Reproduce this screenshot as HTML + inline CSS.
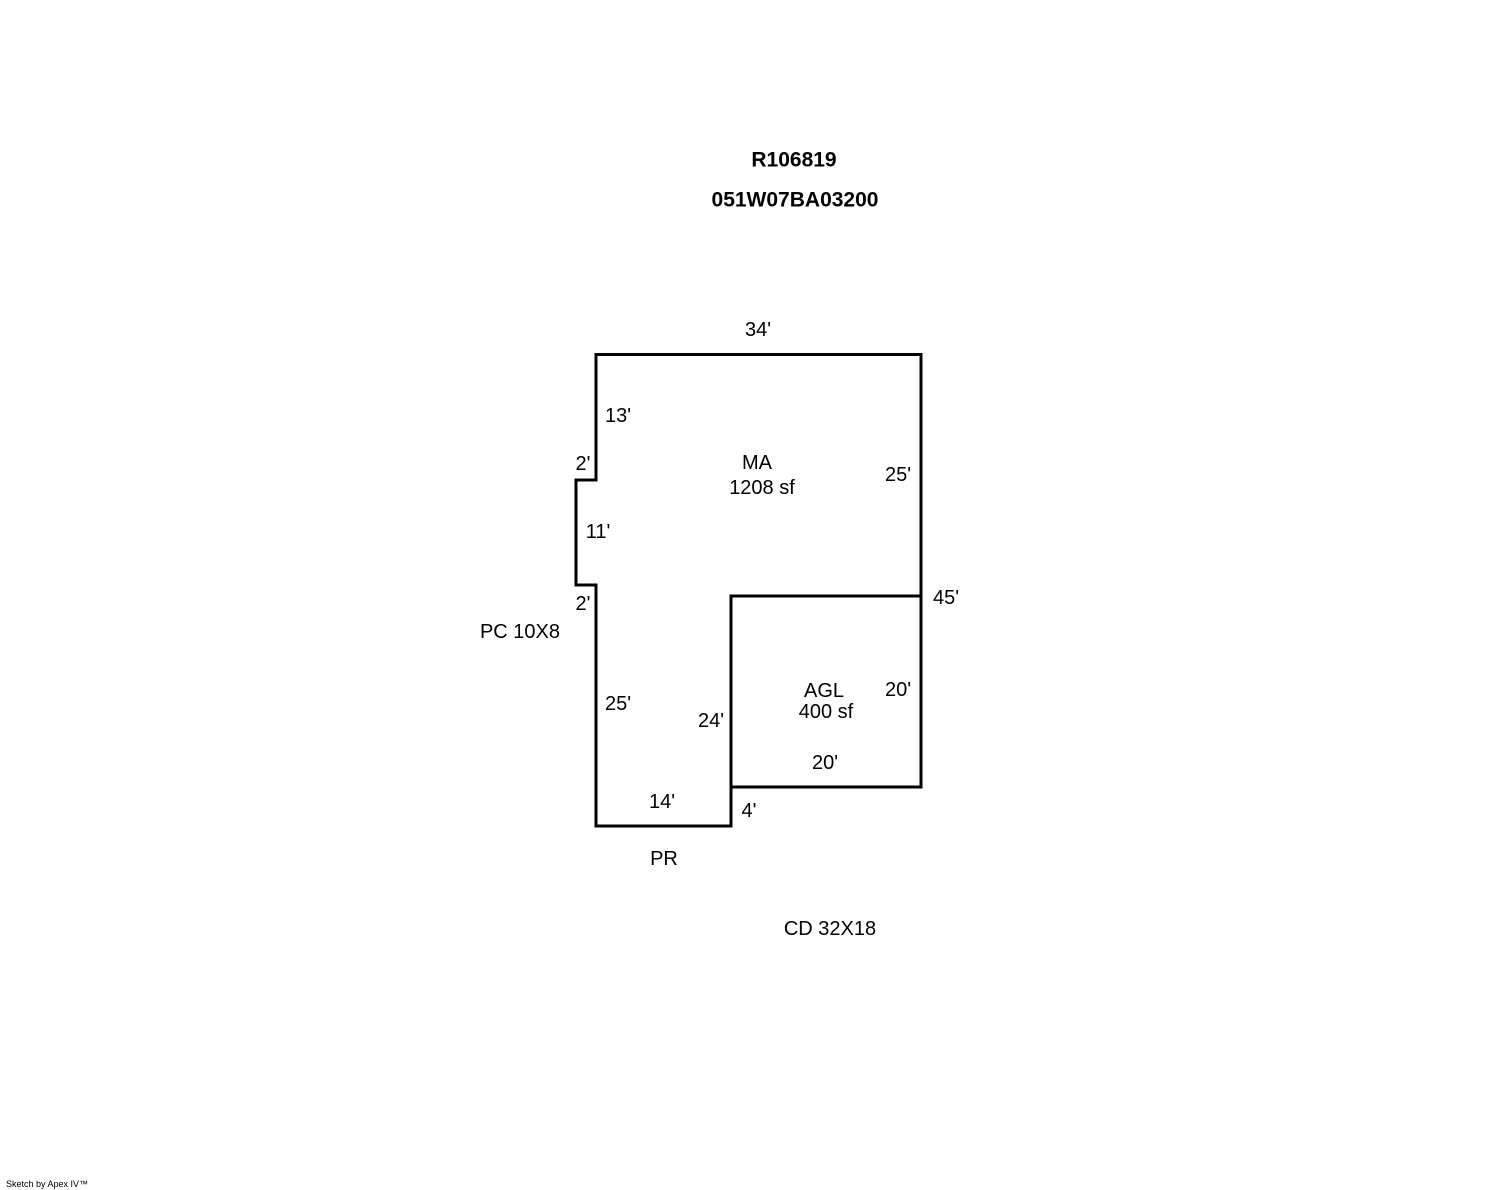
<!DOCTYPE html>
<html><head><style>body{margin:0;background:#fff}svg{display:block}</style></head><body>
<svg width="1488" height="1190" xmlns="http://www.w3.org/2000/svg" font-family="Liberation Sans, Arial, sans-serif" font-size="20" fill="#000">
<polygon points="596,354.5 921,354.5 921,787 731,787 731,826 596,826 596,585 576,585 576,480 596,480" fill="none" stroke="#000" stroke-width="3"/>
<polyline points="921,596 731,596 731,787" fill="none" stroke="#000" stroke-width="3"/>
<g text-anchor="middle" dominant-baseline="central">
<text x="794" y="160" font-weight="bold" font-size="21">R106819</text>
<text x="795" y="200" font-weight="bold" font-size="21">051W07BA03200</text>
<text x="758" y="330">34'</text>
<text x="618" y="416">13'</text>
<text x="583" y="464">2'</text>
<text x="757" y="463">MA</text>
<text x="762" y="488">1208 sf</text>
<text x="898" y="475">25'</text>
<text x="598" y="532">11'</text>
<text x="583" y="604">2'</text>
<text x="946" y="598">45'</text>
<text x="520" y="632">PC 10X8</text>
<text x="824" y="691">AGL</text>
<text x="826" y="712">400 sf</text>
<text x="898" y="690">20'</text>
<text x="618" y="704">25'</text>
<text x="711" y="721">24'</text>
<text x="825" y="763">20'</text>
<text x="662" y="802">14'</text>
<text x="749" y="811">4'</text>
<text x="664" y="859">PR</text>
<text x="830" y="929">CD 32X18</text>
</g>
<text x="6" y="1187" font-size="9">Sketch by Apex IV™</text>
</svg>
</body></html>
